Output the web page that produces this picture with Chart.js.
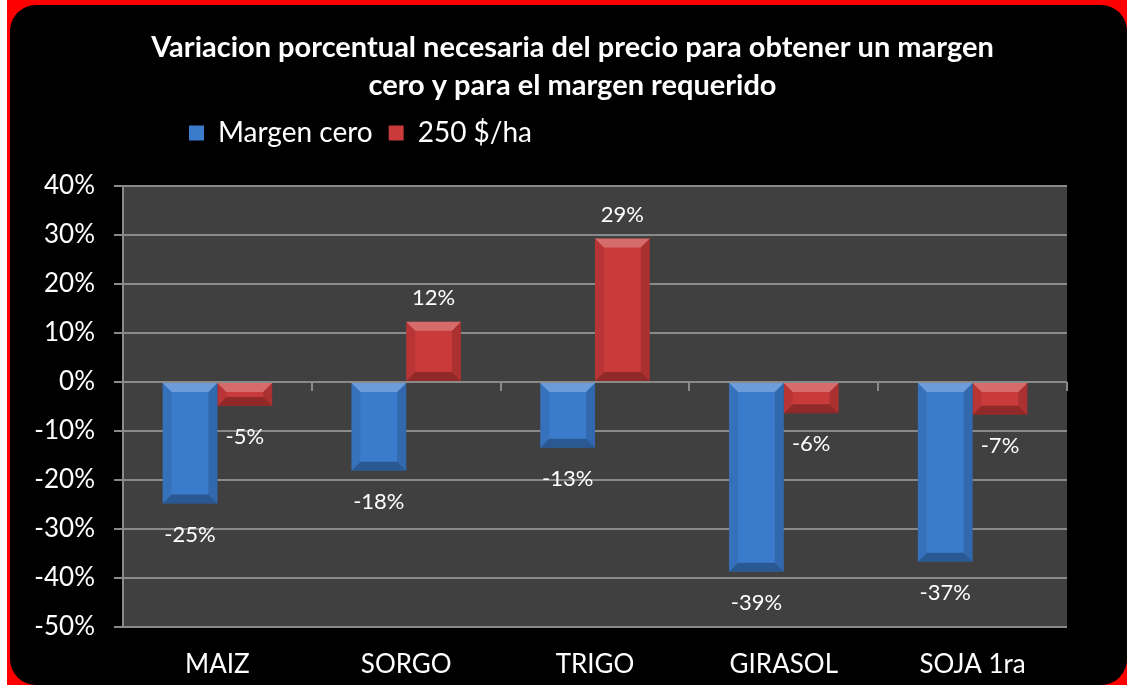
<!DOCTYPE html>
<html>
<head>
<meta charset="utf-8">
<title>Variacion porcentual</title>
<script src="https://cdn.jsdelivr.net/npm/chart.js@4.4.0/dist/chart.umd.min.js"></script>
<style>
  html, body { margin: 0; padding: 0; background: #fff; }
  #frame { position: absolute; left: 7px; top: 0; width: 1120px; height: 685px; background: #ff0000; overflow: hidden; }
  #panel { position: absolute; left: 3px; top: 5px; width: 1117px; height: 680px; background: #000; border-radius: 26px; }
  #wrap { position: absolute; left: 0; top: 0; width: 1127px; height: 685px; }
</style>
</head>
<body>
<div id="frame"><div id="panel"></div></div>
<div id="wrap"><canvas id="chart" width="1127" height="685"></canvas></div>
<script>
// Chart data
const categories = ['MAIZ', 'SORGO', 'TRIGO', 'GIRASOL', 'SOJA 1ra'];
const margenCero = [-24.8, -18.1, -13.4, -38.7, -36.7];
const margen250 = [-4.9, 12.3, 29.3, -6.4, -6.7];
const seriesNames = ['Margen cero', '250 $/ha'];
const titleLines = [
    'Variacion porcentual necesaria del precio para obtener un margen',
    'cero y para el margen requerido'
];
const yMin = -50, yMax = 40, yStep = 10;

const FONT = 'Lato, "Open Sans", sans-serif';
const BLUE = '#3b7bcc';
const RED = '#c93a3a';
const GRID = '#8a8a8a';

// grey plot background + nudge title/legend to where Excel put them
const plotBg = {
    id: 'plotBg',
    beforeDraw(chart) {
        const a = chart.chartArea;
        const ctx = chart.ctx;
        ctx.save();
        ctx.fillStyle = '#404040';
        ctx.fillRect(a.left, a.top, a.right - a.left, a.bottom - a.top);
        ctx.restore();
        if (chart.legend) { chart.legend.left = 173; chart.legend.top = 103; }
        if (chart.titleBlock) { chart.titleBlock.left = 18; chart.titleBlock.right = 1127; }
    },
    beforeDatasetsDraw(chart) {
        // little tick marks on the zero line between categories
        const a = chart.chartArea;
        const y0 = chart.scales.y.getPixelForValue(0);
        const step = (a.right - a.left) / categories.length;
        const ctx = chart.ctx;
        ctx.save();
        ctx.strokeStyle = GRID;
        ctx.lineWidth = 2;
        for (let i = 1; i <= categories.length; i++) {
            const x = Math.round(a.left + i * step);
            ctx.beginPath();
            ctx.moveTo(x, y0);
            ctx.lineTo(x, y0 + 9);
            ctx.stroke();
        }
        ctx.restore();
    }
};

// bevel look on the bars
const bevel = {
    id: 'bevel',
    afterDatasetsDraw(chart) {
        const ctx = chart.ctx;
        chart.data.datasets.forEach((ds, di) => {
            chart.getDatasetMeta(di).data.forEach(el => {
                const p = el.getProps(['x', 'y', 'base', 'width'], true);
                const top = Math.min(p.y, p.base), bot = Math.max(p.y, p.base);
                const l = p.x - p.width / 2, r = p.x + p.width / 2;
                const b = Math.min(9, (bot - top) / 2);
                const poly = (pts, col) => {
                    ctx.beginPath();
                    ctx.moveTo(pts[0][0], pts[0][1]);
                    pts.slice(1).forEach(q => ctx.lineTo(q[0], q[1]));
                    ctx.closePath();
                    ctx.fillStyle = col;
                    ctx.fill();
                };
                ctx.save();
                poly([[l, top], [r, top], [r - b, top + b], [l + b, top + b]], 'rgba(255,255,255,0.25)');
                poly([[l, bot], [r, bot], [r - b, bot - b], [l + b, bot - b]], 'rgba(0,0,0,0.28)');
                poly([[l, top], [l + b, top + b], [l + b, bot - b], [l, bot]], 'rgba(0,0,0,0.08)');
                poly([[r, top], [r - b, top + b], [r - b, bot - b], [r, bot]], 'rgba(0,0,0,0.15)');
                ctx.restore();
            });
        });
    }
};

// value labels like "-25%"
const valueLabels = {
    id: 'valueLabels',
    afterDatasetsDraw(chart) {
        const ctx = chart.ctx;
        ctx.save();
        ctx.fillStyle = '#ffffff';
        ctx.font = '22px ' + FONT;
        ctx.textAlign = 'center';
        ctx.textBaseline = 'middle';
        chart.data.datasets.forEach((ds, di) => {
            chart.getDatasetMeta(di).data.forEach((el, i) => {
                const v = ds.data[i];
                const y = v >= 0 ? el.y - 24 : el.y + 31;
                ctx.fillText(Math.round(v) + '%', el.x, y);
            });
        });
        ctx.restore();
    }
};

new Chart(document.getElementById('chart'), {
    type: 'bar',
    data: {
        labels: categories,
        datasets: [
            { label: seriesNames[0], data: margenCero, backgroundColor: BLUE },
            { label: seriesNames[1], data: margen250, backgroundColor: RED }
        ]
    },
    options: {
        responsive: false,
        animation: false,
        categoryPercentage: 0.58,
        barPercentage: 1.0,
        layout: { padding: { left: 0, right: 60, top: 0, bottom: 6 } },
        plugins: {
            title: {
                display: true,
                text: titleLines,
                color: '#ffffff',
                font: { family: FONT, size: 29, weight: 'bold', lineHeight: '38px' },
                padding: { top: 29, bottom: 7 }
            },
            subtitle: {
                // empty spacer between the legend and the plot
                display: true,
                text: '',
                weight: 500,
                font: { size: 10, lineHeight: '10px' },
                padding: { top: 10, bottom: 0 }
            },
            legend: {
                display: true,
                position: 'top',
                align: 'start',
                labels: {
                    color: '#ffffff',
                    font: { family: FONT, size: 28 },
                    boxWidth: 15,
                    boxHeight: 15,
                    padding: 16
                }
            },
            tooltip: { enabled: false }
        },
        scales: {
            x: {
                grid: { display: false, drawTicks: false },
                border: { display: false },
                ticks: { color: '#ffffff', font: { family: FONT, size: 26 }, padding: 22 },
                afterFit: scale => { scale.height = 52; }
            },
            y: {
                min: yMin,
                max: yMax,
                ticks: {
                    stepSize: yStep,
                    color: '#ffffff',
                    font: { family: FONT, size: 26 },
                    padding: 19,
                    callback: v => v + '%'
                },
                grid: { color: GRID, lineWidth: 2, tickLength: 9 },
                border: { display: true, color: GRID, width: 2 },
                afterFit: scale => { scale.width = 123; }
            }
        }
    },
    plugins: [plotBg, bevel, valueLabels]
});
</script>
</body>
</html>
